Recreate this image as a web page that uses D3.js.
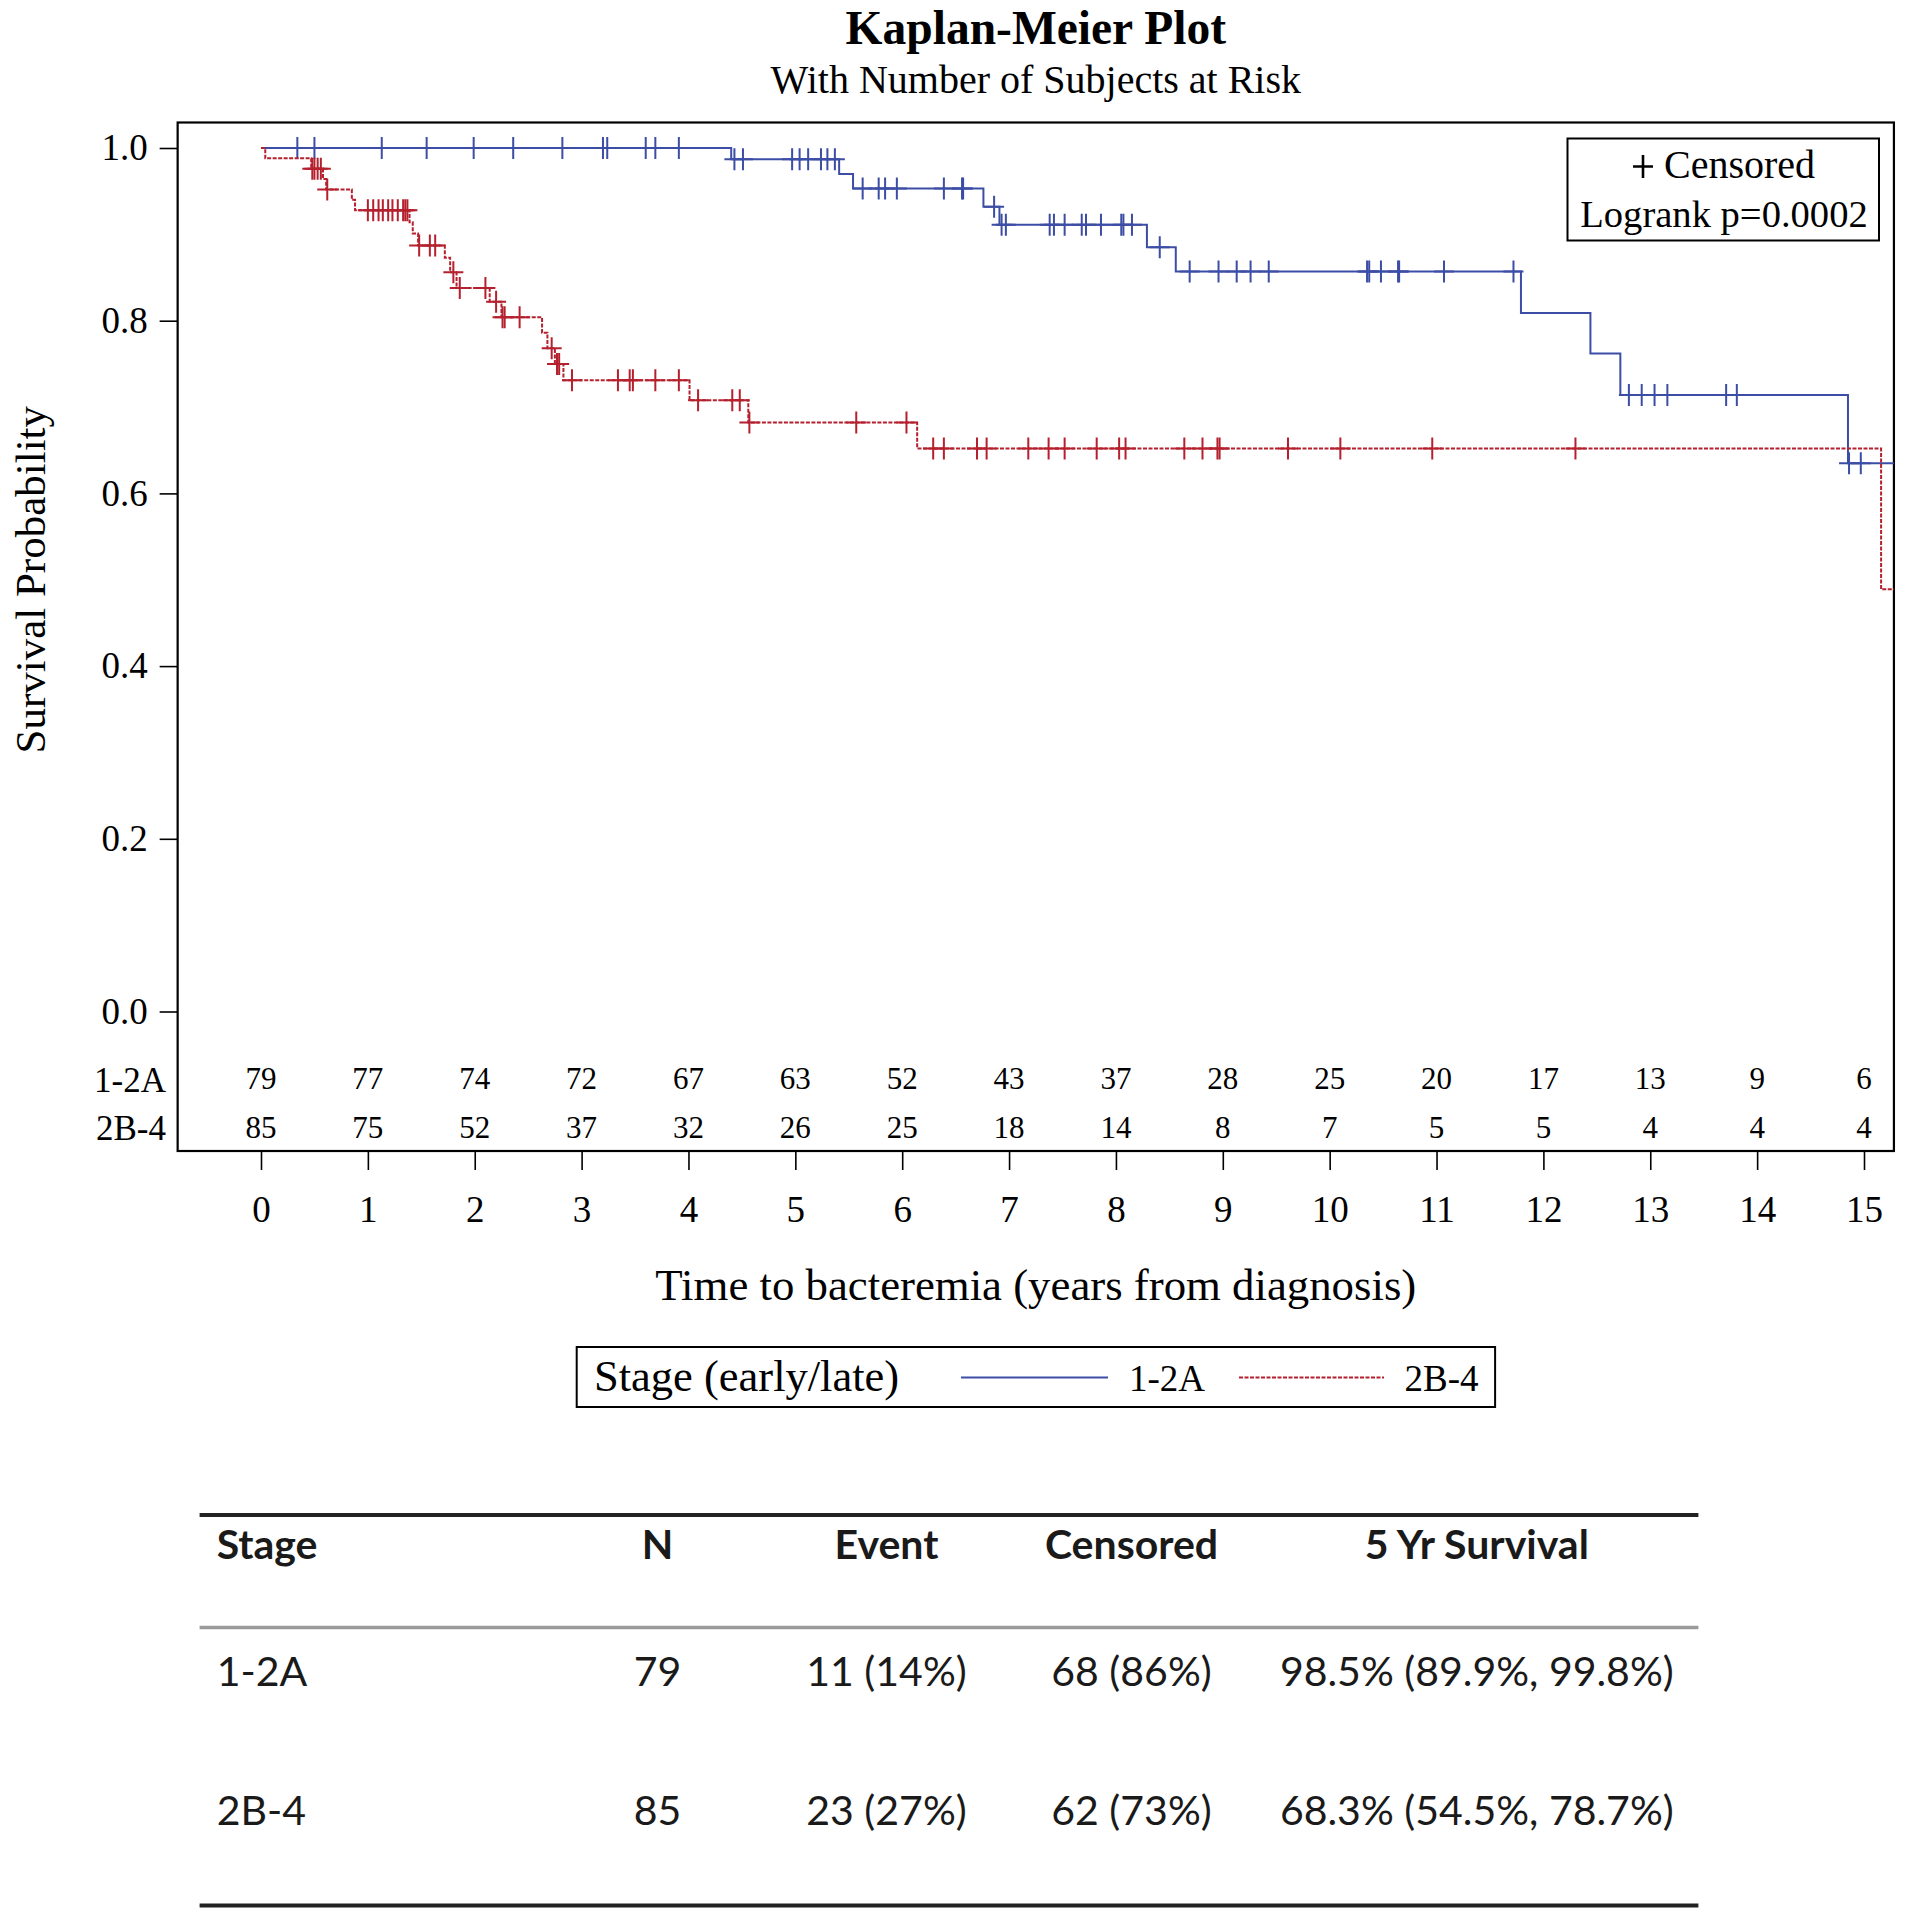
<!DOCTYPE html>
<html><head><meta charset="utf-8">
<script src="https://cdn.jsdelivr.net/npm/d3@7"></script>
<style>body{margin:0;background:#fff}svg{display:block}</style>
</head><body>
<svg id="c" width="1909" height="1920"></svg>
<script>
// ---------- data ----------
const timeTicks = [0,1,2,3,4,5,6,7,8,9,10,11,12,13,14,15];
const probTicks = [0,0.2,0.4,0.6,0.8,1.0];
const groups = ["1-2A","2B-4"];
// Kaplan-Meier steps [time, survival]
const stepsEarly = [[0,1],[4.40,0.987],[5.41,0.970],[5.54,0.953],[6.76,0.932],[6.91,0.911],[8.29,0.885],[8.56,0.857],[11.79,0.809],[12.44,0.762],[12.72,0.714],[14.85,0.635]];
const stepsLate = [[0,1],[0.04,0.988],[0.47,0.976],[0.58,0.964],[0.61,0.952],[0.85,0.940],[0.88,0.928],[1.39,0.914],[1.42,0.901],[1.47,0.887],[1.72,0.873],[1.77,0.856],[1.83,0.838],[2.14,0.822],[2.25,0.804],[2.63,0.786],[2.68,0.768],[2.75,0.750],[2.83,0.731],[4.01,0.708],[4.56,0.682],[6.14,0.652],[15.16,0.489]];
const censorEarly = [0.34,0.50,1.13,1.55,1.99,2.36,2.82,3.20,3.24,3.60,3.69,3.91,4.43,4.51,4.97,5.04,5.12,5.24,5.30,5.37,5.63,5.78,5.84,5.95,6.39,6.56,6.57,6.86,6.93,6.97,7.38,7.42,7.52,7.68,7.72,7.86,8.05,8.07,8.15,8.41,8.69,8.96,9.13,9.26,9.43,10.35,10.37,10.48,10.64,10.65,11.07,11.72,12.80,12.92,13.04,13.16,13.71,13.81,14.86,14.97];
const censorLate = [0.48,0.50,0.53,0.56,0.62,1.00,1.05,1.10,1.14,1.19,1.23,1.28,1.33,1.35,1.37,1.48,1.58,1.63,1.80,1.86,2.10,2.20,2.26,2.28,2.42,2.72,2.77,2.79,2.91,3.34,3.45,3.48,3.69,3.91,4.09,4.41,4.48,4.57,5.57,6.04,6.29,6.39,6.70,6.79,7.18,7.37,7.52,7.82,8.03,8.09,8.64,8.81,8.95,8.97,9.61,10.10,10.96,12.30];
const lastTimeEarly = 15.28, lastTimeLate = 15.28;
const atRiskEarly = [79,77,74,72,67,63,52,43,37,28,25,20,17,13,9,6];
const atRiskLate  = [85,75,52,37,32,26,25,18,14,8,7,5,5,4,4,4];
const axisMin = -0.78, axisMax = 15.28;
const tableHeader = ["Stage","N","Event","Censored","5 Yr Survival"];
const tableRow1 = ["1-2A","79","11 (14%)","68 (86%)","98.5% (89.9%, 99.8%)"];
const tableRow2 = ["2B-4","85","23 (27%)","62 (73%)","68.3% (54.5%, 78.7%)"];

// ---------- drawing ----------
const BLUE = "#3C4DA5", RED = "#B5202E";
const SERIF = "'Liberation Serif','Times New Roman',serif";
const svg = d3.select("#c");
const x = d3.scaleLinear().domain([0,15]).range([261,1864]);
const y = d3.scaleLinear().domain([0,1]).range([1011.5,148]);
const frameL = x(axisMin), frameR = x(axisMax), frameT = 122.5, frameB = 1151;

// titles
svg.append("text").attr("x",(frameL+frameR)/2).attr("y",44).attr("text-anchor","middle")
  .attr("font-family",SERIF).attr("font-weight","bold").attr("font-size",47.5).text("Kaplan-Meier Plot");
svg.append("text").attr("x",(frameL+frameR)/2).attr("y",93).attr("text-anchor","middle")
  .attr("font-family",SERIF).attr("font-size",40).text("With Number of Subjects at Risk");

// frame
svg.append("rect").attr("x",frameL).attr("y",frameT).attr("width",frameR-frameL).attr("height",frameB-frameT)
  .attr("fill","none").attr("stroke","#000").attr("stroke-width",2.2);

// y axis
const yAxis = d3.axisLeft(y).tickValues(probTicks).tickFormat(d3.format(".1f")).tickSize(18).tickPadding(12);
const gy = svg.append("g").attr("transform",`translate(${frameL},0)`).call(yAxis);
gy.select(".domain").remove();
gy.selectAll(".tick line").attr("stroke","#000").attr("stroke-width",1.6);
gy.selectAll(".tick text").attr("font-family",SERIF).attr("font-size",37).attr("fill","#000");

// x axis
const xAxis = d3.axisBottom(x).tickValues(timeTicks).tickFormat(d3.format("d")).tickSize(19);
const gx = svg.append("g").attr("transform",`translate(0,${frameB})`).call(xAxis);
gx.select(".domain").remove();
gx.selectAll(".tick line").attr("stroke","#000").attr("stroke-width",1.6);
gx.selectAll(".tick text").attr("font-family",SERIF).attr("font-size",37).attr("fill","#000").attr("y",71).attr("dy",0);

// axis titles
svg.append("text").attr("x",(frameL+frameR)/2).attr("y",1300).attr("text-anchor","middle")
  .attr("font-family",SERIF).attr("font-size",44.8).text("Time to bacteremia (years from diagnosis)");
svg.append("text").attr("transform",`translate(45,${(y(0)+y(1))/2}) rotate(-90)`).attr("text-anchor","middle")
  .attr("font-family",SERIF).attr("font-size",43).text("Survival Probability");

// curves
function survAt(steps,t){let s=1;for(const [tt,v] of steps){if(tt<=t)s=v;}return s;}
const line = d3.line().x(d=>x(d[0])).y(d=>y(d[1])).curve(d3.curveStepAfter);
const series = [
  {steps:stepsEarly, cens:censorEarly, last:lastTimeEarly, color:BLUE, dash:null},
  {steps:stepsLate, cens:censorLate, last:lastTimeLate, color:RED, dash:"4,1.5"}
];
series.forEach(s=>{
  const pts = s.steps.concat([[s.last, s.steps[s.steps.length-1][1]]]);
  svg.append("path").attr("d",line(pts)).attr("fill","none").attr("stroke",s.color)
    .attr("stroke-width",2).attr("stroke-dasharray",s.dash);
  svg.append("g").selectAll("path").data(s.cens).join("path")
    .attr("d",t=>{const cx=x(t), cy=y(survAt(s.steps,t));return `M${cx-10},${cy}H${cx+10}M${cx},${cy-11}V${cy+11}`;})
    .attr("stroke",s.color).attr("stroke-width",2).attr("fill","none");
});

// at-risk table
const riskRows = [{label:groups[0], vals:atRiskEarly, yb:1091.5},{label:groups[1], vals:atRiskLate, yb:1140}];
riskRows.forEach(r=>{
  svg.append("text").attr("x",166).attr("y",r.yb).attr("text-anchor","end")
    .attr("font-family",SERIF).attr("font-size",35).text(r.label);
  svg.append("g").selectAll("text").data(r.vals).join("text")
    .attr("x",(d,i)=>x(timeTicks[i])).attr("y",r.yb-2.5).attr("text-anchor","middle")
    .attr("font-family",SERIF).attr("font-size",31).text(d=>d);
});

// censored / logrank inset
svg.append("rect").attr("x",1567.5).attr("y",138.5).attr("width",311.5).attr("height",102)
  .attr("fill","#fff").attr("stroke","#000").attr("stroke-width",2);
svg.append("path").attr("d","M1633,166.5H1653M1643,155V178").attr("stroke","#000").attr("stroke-width",2.6);
svg.append("text").attr("x",1664).attr("y",178).attr("font-family",SERIF).attr("font-size",40).text("Censored");
svg.append("text").attr("x",1724).attr("y",227).attr("text-anchor","middle").attr("font-family",SERIF).attr("font-size",38.6).text("Logrank p=0.0002");

// bottom legend
svg.append("rect").attr("x",576.7).attr("y",1347).attr("width",918.4).attr("height",60)
  .attr("fill","none").attr("stroke","#000").attr("stroke-width",2);
svg.append("text").attr("x",594).attr("y",1391).attr("font-family",SERIF).attr("font-size",44.5).text("Stage (early/late)");
svg.append("line").attr("x1",961).attr("x2",1108).attr("y1",1377.5).attr("y2",1377.5).attr("stroke",BLUE).attr("stroke-width",2);
svg.append("text").attr("x",1129).attr("y",1391).attr("font-family",SERIF).attr("font-size",37).text(groups[0]);
svg.append("line").attr("x1",1239).attr("x2",1384).attr("y1",1377.5).attr("y2",1377.5).attr("stroke",RED).attr("stroke-width",2).attr("stroke-dasharray","4,1.5");
svg.append("text").attr("x",1404.5).attr("y",1391).attr("font-family",SERIF).attr("font-size",37).text(groups[1]);

// summary table
const SANS = "Lato,'Noto Sans',sans-serif";
const colX = [216.7, 657.6, 886.5, 1131.5, 1476.8];
const colAnchor = ["start","middle","middle","middle","middle"];
svg.append("line").attr("x1",199.6).attr("x2",1698.4).attr("y1",1515).attr("y2",1515).attr("stroke","#222").attr("stroke-width",4);
svg.append("line").attr("x1",199.6).attr("x2",1698.4).attr("y1",1627.5).attr("y2",1627.5).attr("stroke","#9a9a9a").attr("stroke-width",3.5);
svg.append("line").attr("x1",199.6).attr("x2",1698.4).attr("y1",1905.5).attr("y2",1905.5).attr("stroke","#222").attr("stroke-width",4);
const tRows = [{cells:tableHeader, yb:1559, bold:true},{cells:tableRow1, yb:1686, bold:false},{cells:tableRow2, yb:1824.5, bold:false}];
tRows.forEach(r=>{
  svg.append("g").selectAll("text").data(r.cells).join("text")
    .attr("x",(d,i)=>colX[i]).attr("y",r.yb).attr("text-anchor",(d,i)=>colAnchor[i])
    .attr("font-family",SANS).attr("font-weight",r.bold?"bold":"normal").attr("font-size",41)
    .attr("fill","#1a1a1a").text(d=>d);
});
</script>
</body></html>
